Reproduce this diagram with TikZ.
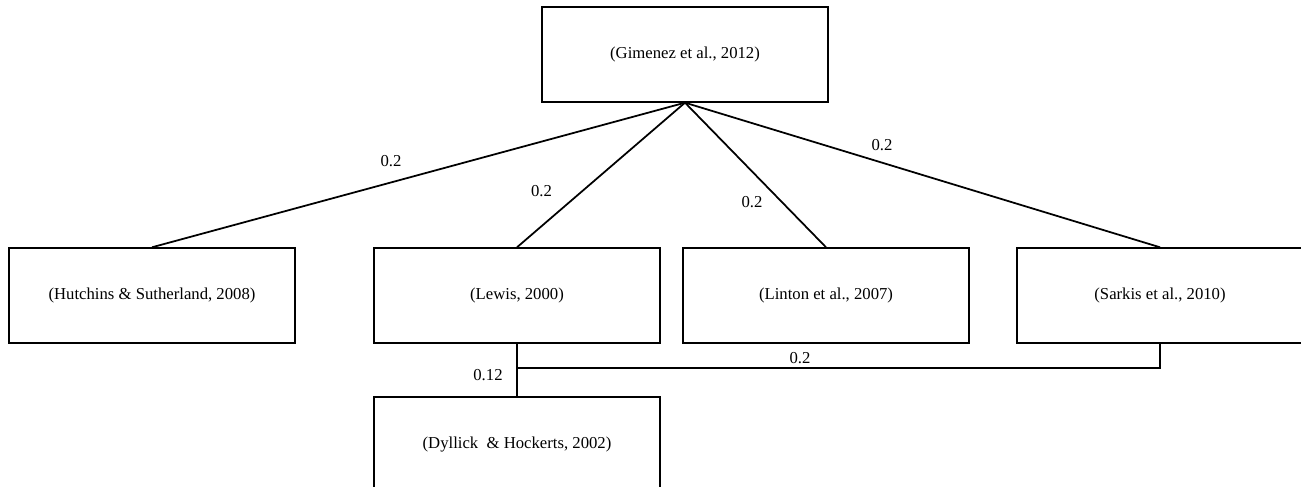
\documentclass[tikz,border=0pt]{standalone}
\usepackage{fontspec}
\setmainfont{Liberation Serif}
\usepackage{tikz}

\begin{document}
\begin{tikzpicture}[
	ref/.style={draw, line width=0.8pt, minimum width=5.72cm, minimum height=1.9cm, inner sep=0pt, font=\fontsize{9.5}{11}\selectfont},
	link/.style={line width=1pt},
	wt/.style={font=\fontsize{9.5}{11}\selectfont}
]
	\useasboundingbox (0,0) rectangle (26.02,9.74);

	% Draw boxes
	%Top
	\node[ref] (gim) at (13.7,8.65) {(Gimenez et al., 2012)};
	%Middle row
	\node[ref] (hut) at (3.04,3.83) {(Hutchins \& Sutherland, 2008)};
	\node[ref] (lew) at (10.34,3.83) {(Lewis, 2000)};
	\node[ref] (lin) at (16.52,3.83) {(Linton et al., 2007)};
	\node[ref] (sar) at (23.2,3.83) {(Sarkis et al., 2010)};
	%Bottom
	\node[ref] (dyl) at (10.34,0.85) {(Dyllick \ \& Hockerts, 2002)};

	% Draw links
	\draw[link] (gim.south) -- (hut.north);
	\draw[link] (gim.south) -- (lew.north);
	\draw[link] (gim.south) -- (lin.north);
	\draw[link] (gim.south) -- (sar.north);
	\draw[link] (lew.south) -- (dyl.north);
	\coordinate (jn) at (10.34,2.38);
	\draw[link] (sar.south) |- (jn);

	%Add weights
	\node[wt] (w1) at (7.82,6.52) {0.2};
	\node[wt] (w2) at (10.83,5.92) {0.2};
	\node[wt] (w3) at (15.04,5.69) {0.2};
	\node[wt] (w4) at (17.64,6.84) {0.2};
	\node[wt] (w5) at (16.0,2.58) {0.2};
	\node[wt] (w6) at (9.76,2.24) {0.12};

\end{tikzpicture}
\end{document}
